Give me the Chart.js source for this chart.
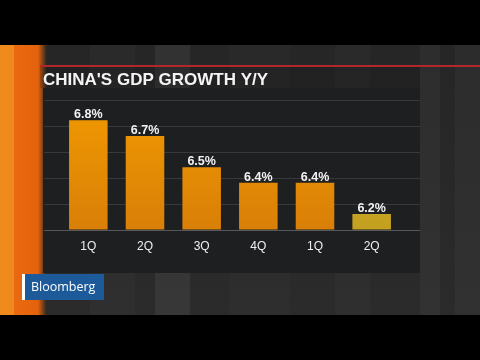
<!DOCTYPE html>
<html>
<head>
<meta charset="utf-8">
<script src="https://cdn.jsdelivr.net/npm/chart.js@4/dist/chart.umd.min.js"></script>
<style>
  html, body { margin: 0; padding: 0; background: #000; }
  #wrap { width: 480px; height: 360px; }
</style>
</head>
<body>
<div id="wrap"><canvas id="chart" width="480" height="360"></canvas></div>
<script>
const quarters = ['1Q', '2Q', '3Q', '4Q', '1Q', '2Q'];
const growth = [6.8, 6.7, 6.5, 6.4, 6.4, 6.2];
const axisMin = 6.1;
const axisMax = 6.93;
const title = "CHINA'S GDP GROWTH Y/Y";

// TV backdrop, panel and grid lines behind the bars
const backdrop = {
  id: 'backdrop',
  beforeDraw(chart) {
    const ctx = chart.ctx;
    ctx.save();
    ctx.fillStyle = '#000';
    ctx.fillRect(0, 0, 480, 360);

    // grey studio background with soft vertical bands
    const bg = ctx.createLinearGradient(0, 45, 0, 315);
    bg.addColorStop(0, '#262626');
    bg.addColorStop(1, '#2b2b2b');
    ctx.fillStyle = bg;
    ctx.fillRect(0, 45, 480, 270);
    const bands = [[90, 135, 0.02], [155, 190, 0.06], [230, 290, 0.015], [335, 370, 0.02], [420, 440, 0.035], [455, 480, 0.03]];
    bands.forEach(b => {
      ctx.fillStyle = 'rgba(255,255,255,' + b[2] + ')';
      ctx.fillRect(b[0], 45, b[1] - b[0], 270);
    });

    // orange strip on the left
    ctx.fillStyle = '#f08a1c';
    ctx.fillRect(0, 45, 14, 270);
    const og = ctx.createLinearGradient(14, 0, 46, 0);
    og.addColorStop(0, '#ea6a10');
    og.addColorStop(0.75, '#e4620c');
    og.addColorStop(1, '#3a2a20');
    ctx.fillStyle = og;
    ctx.fillRect(14, 45, 32, 270);

    // red rule
    ctx.fillStyle = '#b0282c';
    ctx.fillRect(40, 65, 440, 2);

    // title backing
    ctx.fillStyle = 'rgba(0,0,0,0.12)';
    ctx.fillRect(40, 67, 380, 21);

    // chart panel
    ctx.fillStyle = '#1e1f21';
    ctx.fillRect(43, 88, 377, 185);

    // grid lines across panel
    const y = chart.scales.y;
    y.ticks.forEach((t, i) => {
      const py = Math.round(y.getPixelForValue(t.value)) + 0.5;
      ctx.strokeStyle = i === 0 ? '#56585b' : '#38393c';
      ctx.lineWidth = 1;
      ctx.beginPath();
      ctx.moveTo(44, py);
      ctx.lineTo(420, py);
      ctx.stroke();
    });
    ctx.restore();
  },
  afterDatasetsDraw(chart) {
    const ctx = chart.ctx;
    ctx.save();
    // value labels
    ctx.fillStyle = '#f2f2f2';
    ctx.font = 'bold 12.5px "Liberation Sans", Arial, sans-serif';
    ctx.textAlign = 'center';
    ctx.textBaseline = 'alphabetic';
    chart.getDatasetMeta(0).data.forEach((bar, i) => {
      ctx.fillText(growth[i].toFixed(1) + '%', bar.x, bar.y - 2);
    });
    ctx.restore();
  },
  afterDraw(chart) {
    const ctx = chart.ctx;
    ctx.save();
    // title
    ctx.fillStyle = '#f4f4f4';
    ctx.font = 'bold 17px "Liberation Sans", Arial, sans-serif';
    ctx.textBaseline = 'alphabetic';
    ctx.textAlign = 'left';
    ctx.fillText(title, 43, 85);

    // Bloomberg bug
    ctx.fillStyle = '#1d5a9a';
    ctx.fillRect(22, 274, 82, 26);
    ctx.fillStyle = '#ffffff';
    ctx.fillRect(22, 274, 3, 26);
    ctx.font = '12.5px "Open Sans", "DejaVu Sans", sans-serif';
    ctx.textBaseline = 'middle';
    ctx.fillText('Bloomberg', 31, 287);
    ctx.restore();
  }
};

new Chart(document.getElementById('chart'), {
  type: 'bar',
  data: {
    labels: quarters,
    datasets: [{
      data: growth,
      backgroundColor: ctx => {
        const area = ctx.chart.chartArea;
        if (!area) return '#ec9200';
        const g = ctx.chart.ctx.createLinearGradient(0, area.top, 0, area.bottom);
        if (ctx.dataIndex === growth.length - 1) {
          g.addColorStop(0, '#d8b42a');
          g.addColorStop(1, '#c4a020');
          return g;
        }
        g.addColorStop(0, '#f19a00');
        g.addColorStop(1, '#d97f08');
        return g;
      },
      borderWidth: 0,
      barPercentage: 0.68,
      categoryPercentage: 1.0
    }]
  },
  options: {
    responsive: false,
    animation: false,
    devicePixelRatio: 1,
    layout: {
      padding: { left: 60, right: 80, top: 100, bottom: 96 }
    },
    plugins: {
      legend: { display: false },
      tooltip: { enabled: false }
    },
    scales: {
      x: {
        grid: { display: false, drawTicks: false },
        border: { display: false },
        ticks: {
          color: '#f0f0f0',
          padding: 10,
          font: { family: '"Liberation Sans", Arial, sans-serif', size: 12 }
        }
      },
      y: {
        min: axisMin,
        max: axisMax,
        display: false,
        ticks: { count: 6 }
      }
    }
  },
  plugins: [backdrop]
});
</script>
</body>
</html>
